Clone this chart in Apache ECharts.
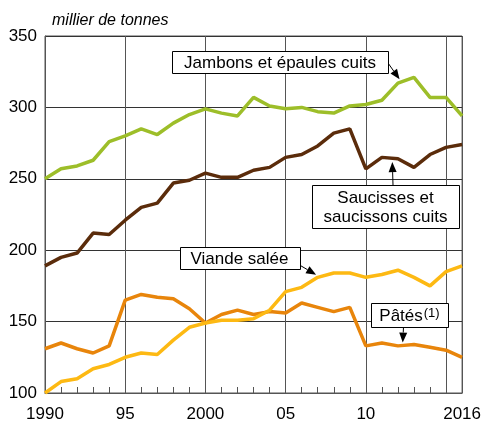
<!DOCTYPE html>
<html><head><meta charset="utf-8">
<script src="https://cdn.jsdelivr.net/npm/echarts@6/dist/echarts.min.js"></script>
<style>html,body{margin:0;padding:0;background:#fff}#c{width:484px;height:424px}</style>
</head><body><div id="c"></div>
<script>
// ---- data ----
const years = [1990,1991,1992,1993,1994,1995,1996,1997,1998,1999,2000,2001,2002,2003,2004,2005,2006,2007,2008,2009,2010,2011,2012,2013,2014,2015,2016];
const jambons = [250,257,259,263,276,280,285,281,289,295,299,296,294,307,301,299,300,297,296,301,302,305,317,321,307,307,294];
const saucisses = [189,195,198,212,211,221,230,233,247,249,254,251,251,256,258,265,267,273,282,285,257,265,264,258,267,272,274];
const viande = [100,108,110,117,120,125,128,127,137,146,149,151,151,152,158,171,174,181,184,184,181,183,186,181,175,185,189];
const pates = [131,135,131,128,133,165,169,167,166,159,149,155,158,155,157,156,163,160,157,160,133,135,133,134,132,130,125];
const xLabelYears = [1990,1995,2000,2005,2010,2016];
const xLabelTexts = ['1990','95','2000','05','10','2016'];
const unitLabel = 'millier de tonnes';

const FONT = '"Liberation Sans", Arial, sans-serif';
const chart = echarts.init(document.getElementById('c'), null, {renderer:'canvas'});
const pairs = arr => years.map((y,i)=>[y, arr[i]]);
const mk = (name, arr, color) => ({
  name, type:'line', data:pairs(arr), symbol:'none', xAxisIndex:0, yAxisIndex:0,
  lineStyle:{width:3.5, color}, itemStyle:{color}, animation:false
});

chart.setOption({
  animation:false,
  title:{text:unitLabel, left:47, top:8, textStyle:{fontFamily:FONT, fontStyle:'italic', fontWeight:'normal', fontSize:16, color:'#000'}},
  grid:{left:45, right:21, top:36, bottom:31, show:true, borderColor:'#555', borderWidth:1, backgroundColor:'transparent'},
  xAxis:[
    {type:'value', min:1990, max:2016, interval:1,
     axisLine:{show:true, lineStyle:{color:'#555', width:1}},
     axisTick:{show:true, inside:true, length:6, lineStyle:{color:'#555'}},
     axisLabel:{show:false}, splitLine:{show:false}},
    {type:'value', min:1990, max:2016, interval:5, position:'bottom', gridIndex:0,
     axisLine:{show:false}, axisTick:{show:false},
     axisLabel:{show:true, showMaxLabel:true, showMinLabel:true, fontFamily:FONT, fontSize:17, color:'#000', margin:13,
       formatter:v => { const k = xLabelYears.indexOf(Math.round(v)); return k>=0 ? xLabelTexts[k] : ''; }},
     splitLine:{show:true, lineStyle:{color:'#555', width:1}}}
  ],
  yAxis:{type:'value', min:100, max:350, interval:50,
    axisLine:{show:true, lineStyle:{color:'#555'}}, axisTick:{show:false},
    axisLabel:{fontFamily:FONT, fontSize:17, color:'#000', margin:8},
    splitLine:{show:true, lineStyle:{color:'#333', width:1}}},
  series:[
    mk('Jambons et épaules cuits', jambons, '#9DBE29'),
    mk('Saucisses et saucissons cuits', saucisses, '#5B2C0B'),
    mk('Pâtés', pates, '#E8850B'),
    mk('Viande salée', viande, '#FDB913')
  ]
});

// ---- annotations ----
const notes = [
  {box:[172,51,216,22], text:'Jambons et épaules cuits', from:[388,63], tip:[2012.1,319.7]},
  {box:[312,185,147,43], text:'Saucisses et\nsaucissons cuits', from:[393,185], tip:[2011.65,261.7]},
  {box:[179.5,247,120,22], text:'Viande salée', from:[299.5,265], tip:[2006.9,182.8]},
  {box:[371,303,77,24], text:'{a|Pâtés}{b|(1)}', from:[403.5,327], tip:[2012.3,135.3], rich:true}
];
const els = [];
notes.forEach(n => {
  const [bx,by,bw,bh] = n.box;
  const tp = chart.convertToPixel({xAxisIndex:0, yAxisIndex:0}, n.tip);
  const [x1,y1] = n.from, [x2,y2] = tp;
  const dx=x2-x1, dy=y2-y1, L=Math.sqrt(dx*dx+dy*dy), ux=dx/L, uy=dy/L;
  const hl=10, hw=4;
  const bxp=x2-ux*hl, byp=y2-uy*hl;
  els.push({type:'line', shape:{x1, y1, x2:bxp, y2:byp}, style:{stroke:'#000', lineWidth:1}, z:100});
  els.push({type:'polygon', shape:{points:[[x2,y2],[bxp-uy*hw, byp+ux*hw],[bxp+uy*hw, byp-ux*hw]]}, style:{fill:'#000'}, z:100});
  els.push({type:'rect', shape:{x:Math.round(bx)+0.5, y:Math.round(by)+0.5, width:bw, height:bh}, style:{fill:'#fff', stroke:'#000', lineWidth:1}, z:101});
  const ts = {text:n.text, x:bx+bw/2, y:by+bh/2+1, align:'center', verticalAlign:'middle', fill:'#000',
    font:'17px '+FONT, lineHeight:19};
  if (n.rich) ts.rich = {a:{fontSize:17, fontFamily:FONT, fill:'#000'}, b:{fontSize:13, fontFamily:FONT, fill:'#000', verticalAlign:'top', padding:[0,0,6,1]}};
  els.push({type:'text', style:ts, z:102});
});
chart.setOption({graphic:els});
</script>
</body></html>
